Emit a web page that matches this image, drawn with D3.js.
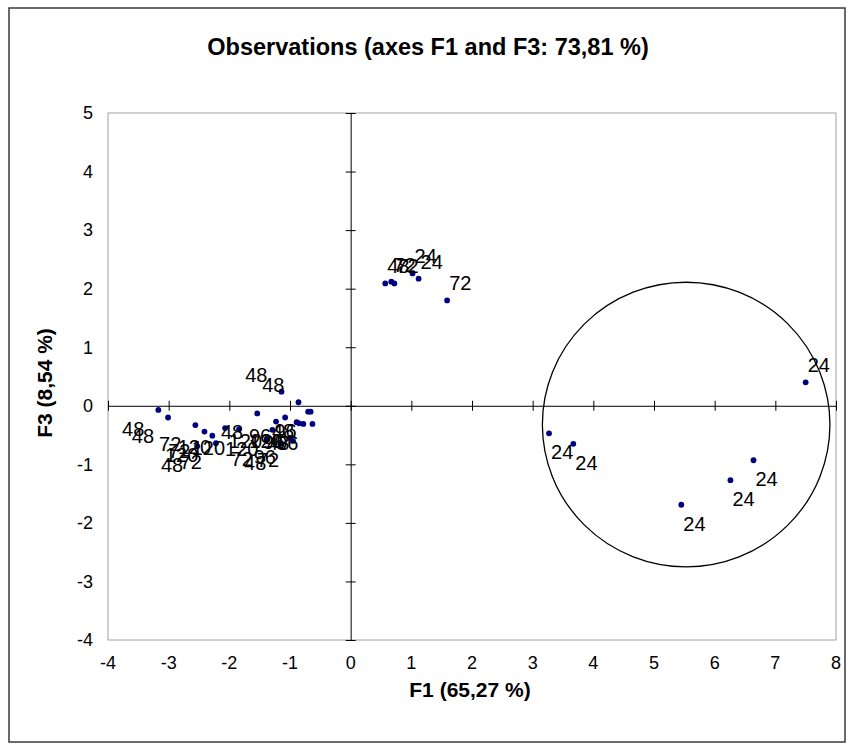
<!DOCTYPE html>
<html>
<head>
<meta charset="utf-8">
<script src="https://cdn.jsdelivr.net/npm/d3@7"></script>
<style>
  html, body { margin: 0; padding: 0; background: #fff; }
  svg { display: block; font-family: "Liberation Sans", Arial, Helvetica, sans-serif; }
</style>
</head>
<body>
<svg id="chart" width="851" height="749"></svg>
<script>
// Observation coordinates on factors F1 and F3, with their labels
const obsF1 = [
  7.50, 3.27, 3.67, 6.64, 6.26, 5.45,
  0.57, 0.67, 0.72, 1.02, 1.12, 1.59,
  -3.17, -3.01, -2.56, -2.41, -2.28, -2.53, -2.22, -2.07, -1.84, -1.54,
  -1.38, -1.16, -1.29, -1.23, -1.08, -1.14, -0.86, -0.89, -0.85, -0.78,
  -0.63, -0.70, -0.66, -1.00, -0.95
];
const obsF3 = [
  0.40, -0.47, -0.65, -0.93, -1.27, -1.69,
  2.09, 2.12, 2.09, 2.26, 2.17, 1.80,
  -0.07, -0.20, -0.33, -0.44, -0.51, -0.69, -0.64, -0.38, -0.40, -0.13,
  -0.58, -0.65, -0.41, -0.27, -0.20, 0.24, 0.06, -0.28, -0.30, -0.31,
  -0.31, -0.10, -0.10, -0.55, -0.60
];
const obsLabels = [
  "24", "24", "24", "24", "24", "24",
  "48", "72", "72", "24", "24", "72",
  "48", "48", "72", "72", "120", "48", "72", "120", "120", "48",
  "72", "48", "120", "120", "96", "48", "48", "120", "96", "48",
  "96", "48", "96", "96", "72"
];
// Which corner of the point each label sits at: tr, br, tl, bl
const labelSide = [
  "tr", "br", "br", "br", "br", "br",
  "tr", "tr", "tr", "tr", "tr", "tr",
  "bl", "bl", "bl", "bl", "bl", "bl", "bl", "bl", "bl", "bl",
  "bl", "bl", "bl", "bl", "bl", "tl", "tl", "bl", "bl", "bl",
  "bl", "bl", "bl", "bl", "bl"
];

// Highlight circle around the right-hand group (centre and radii in F1/F3 units)
const ringCenter = [5.53, -0.32];
const ringRadius = [2.37, 2.43];

const xTicks = [-4, -3, -2, -1, 0, 1, 2, 3, 4, 5, 6, 7, 8];
const yTicks = [-4, -3, -2, -1, 0, 1, 2, 3, 4, 5];

const titleText = "Observations (axes F1 and F3: 73,81 %)";
const xTitle = "F1 (65,27 %)";
const yTitle = "F3 (8,54 %)";

const svg = d3.select("#chart");
const plot = { left: 108, right: 836, top: 113, bottom: 640 };

const x = d3.scaleLinear().domain([-4, 8]).range([plot.left, plot.right]);
const y = d3.scaleLinear().domain([-4, 5]).range([plot.bottom, plot.top]);

// outer frame
svg.append("rect")
  .attr("x", 9).attr("y", 8).attr("width", 836).attr("height", 734)
  .attr("fill", "#fff").attr("stroke", "#3a3a3a").attr("stroke-width", 1.5);

// plot area border
svg.append("rect")
  .attr("x", plot.left).attr("y", plot.top)
  .attr("width", plot.right - plot.left).attr("height", plot.bottom - plot.top)
  .attr("fill", "none").attr("stroke", "#a0a0a0").attr("stroke-width", 1);

// title
svg.append("text")
  .attr("x", 428).attr("y", 55)
  .attr("text-anchor", "middle")
  .attr("font-size", 23.5).attr("font-weight", "bold")
  .text(titleText);

// tick labels along the left and bottom edges of the plot box
svg.append("g").selectAll("text").data(yTicks).join("text")
  .attr("x", plot.left - 15).attr("y", d => y(d)).attr("dy", "0.35em")
  .attr("text-anchor", "end").attr("font-size", 18)
  .text(d => d);

svg.append("g").selectAll("text").data(xTicks).join("text")
  .attr("x", d => x(d)).attr("y", plot.bottom + 29)
  .attr("text-anchor", "middle").attr("font-size", 18)
  .text(d => d);

// zero axes with crossing tick marks
const xAxis = d3.axisBottom(x).tickValues(xTicks).tickSize(0).tickFormat("");
const gx = svg.append("g").attr("transform", `translate(0,${y(0)})`).call(xAxis);
gx.select(".domain").attr("stroke", "#000").attr("stroke-width", 1);
gx.selectAll(".tick line").attr("y1", -5).attr("y2", 5).attr("stroke", "#000");

const yAxis = d3.axisLeft(y).tickValues(yTicks).tickSize(0).tickFormat("");
const gy = svg.append("g").attr("transform", `translate(${x(0)},0)`).call(yAxis);
gy.select(".domain").attr("stroke", "#000").attr("stroke-width", 1);
gy.selectAll(".tick line").attr("x1", -5).attr("x2", 5).attr("stroke", "#000");

// axis titles
svg.append("text")
  .attr("x", 470).attr("y", 697)
  .attr("text-anchor", "middle")
  .attr("font-size", 21).attr("font-weight", "bold")
  .text(xTitle);

svg.append("text")
  .attr("transform", `translate(52,383) rotate(-90)`)
  .attr("text-anchor", "middle")
  .attr("font-size", 21).attr("font-weight", "bold")
  .text(yTitle);

// highlight ring
svg.append("ellipse")
  .attr("cx", x(ringCenter[0])).attr("cy", y(ringCenter[1]))
  .attr("rx", x(ringRadius[0]) - x(0)).attr("ry", y(0) - y(ringRadius[1]))
  .attr("fill", "none").attr("stroke", "#000").attr("stroke-width", 1.3);

const obs = obsF1.map((v, i) => ({ f1: v, f3: obsF3[i], label: obsLabels[i], side: labelSide[i] }));

// observation markers
svg.append("g").selectAll("circle").data(obs).join("circle")
  .attr("cx", d => x(d.f1)).attr("cy", d => y(d.f3))
  .attr("r", 2.9).attr("fill", "#000080");

// observation labels
svg.append("g").selectAll("text").data(obs).join("text")
  .attr("x", d => x(d.f1) + (d.side[1] === "r" ? 2 : -14))
  .attr("y", d => y(d.f3) + (d.side[0] === "t" ? -10 : 26))
  .attr("text-anchor", d => d.side[1] === "r" ? "start" : "end")
  .attr("font-size", 20).attr("fill", "#000")
  .text(d => d.label);
</script>
</body>
</html>
